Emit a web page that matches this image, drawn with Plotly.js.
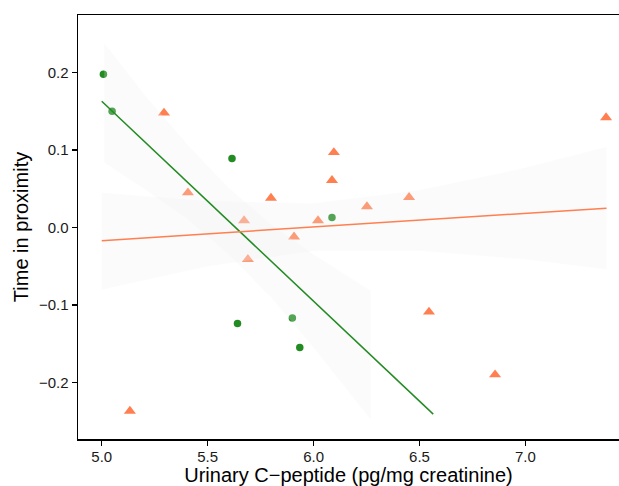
<!DOCTYPE html>
<html>
<head>
<meta charset="utf-8">
<script src="https://cdn.plot.ly/plotly-3.0.1.min.js"></script>
<style>html,body{margin:0;padding:0;background:#fff;overflow:hidden}#plot{width:619px;height:486px}</style>
</head>
<body>
<div id="plot"></div>
<script>
// Green group (circles)
const greenX = [5.008, 5.049, 5.615, 6.087, 5.641, 5.900, 5.935];
const greenY = [0.198, 0.150, 0.089, 0.013, -0.124, -0.117, -0.155];
// Orange group (triangles)
const orangeX = [5.294, 5.407, 5.672, 5.799, 5.908, 6.021, 6.096, 6.087, 6.252, 6.451, 7.381, 5.690, 5.133, 6.545, 6.857];
const orangeY = [0.148, 0.045, 0.009, 0.038, -0.012, 0.009, 0.097, 0.061, 0.027, 0.039, 0.142, -0.041, -0.237, -0.109, -0.190];
// Fitted lines (endpoints)
const greenLineX = [5.0, 6.565];
const greenLineY = [0.163, -0.241];
const orangeLineX = [5.0, 7.383];
const orangeLineY = [-0.017, 0.025];
// Confidence ribbons
const greenBandX = [5.012, 5.2, 5.4, 5.6, 5.8, 6.0, 6.27];
const greenBandUpper = [0.238, 0.172, 0.108, 0.051, 0.004, -0.035, -0.082];
const greenBandLower = [0.084, 0.050, 0.012, -0.035, -0.090, -0.155, -0.248];
const orangeBandX = [5.0, 5.5, 6.0, 6.5, 7.0, 7.383];
const orangeBandUpper = [0.045, 0.034, 0.031, 0.048, 0.077, 0.104];
const orangeBandLower = [-0.080, -0.050, -0.030, -0.030, -0.041, -0.054];
// Axis ticks
const xTicks = [5.0, 5.5, 6.0, 6.5, 7.0];
const xTickText = ['5.0', '5.5', '6.0', '6.5', '7.0'];
const yTicks = [-0.2, -0.1, 0.0, 0.1, 0.2];
const yTickText = ['\u22120.2', '\u22120.1', '0.0', '0.1', '0.2'];

const GREEN = '#228B22';
const ORANGE = '#FF7F50';
const BAND = 'rgba(238,238,238,0.25)';

function band(xs, up, lo) {
  return {
    x: xs.concat(xs.slice().reverse()),
    y: up.concat(lo.slice().reverse()),
    type: 'scatter', mode: 'lines', fill: 'toself',
    fillcolor: BAND, line: {width: 0, color: 'rgba(0,0,0,0)'},
    hoverinfo: 'skip', showlegend: false
  };
}

const traces = [
  {x: greenX, y: greenY, type: 'scatter', mode: 'markers',
   marker: {symbol: 'circle', size: 7.5, color: GREEN}, showlegend: false},
  {x: orangeX, y: orangeY, type: 'scatter', mode: 'markers',
   marker: {symbol: 'triangle-up', size: 10.5, color: ORANGE}, showlegend: false},
  band(greenBandX, greenBandUpper, greenBandLower),
  band(orangeBandX, orangeBandUpper, orangeBandLower),
  {x: greenLineX, y: greenLineY, type: 'scatter', mode: 'lines',
   line: {color: GREEN, width: 1.5}, showlegend: false},
  {x: orangeLineX, y: orangeLineY, type: 'scatter', mode: 'lines',
   line: {color: ORANGE, width: 1.5}, showlegend: false}
];

const layout = {
  width: 619, height: 486,
  margin: {l: 78, r: 0, t: 15, b: 47},
  paper_bgcolor: '#fff', plot_bgcolor: '#fff',
  font: {family: 'Liberation Sans, Arial, sans-serif', color: '#1a1a1a'},
  showlegend: false,
  xaxis: {
    range: [4.888, 7.442], showgrid: false, zeroline: false,
    showline: true, mirror: true, linecolor: '#000', linewidth: 1.5,
    ticks: 'outside', ticklen: 5, tickwidth: 1.2, tickcolor: '#000',
    tickvals: xTicks, ticktext: xTickText, ticklabelstandoff: -2,
    tickfont: {size: 15, color: '#1a1a1a'},
    title: {text: 'Urinary C\u2212peptide (pg/mg creatinine)', font: {size: 20, color: '#000'}, standoff: 3}
  },
  yaxis: {
    range: [-0.2731, 0.2744], showgrid: false, zeroline: false,
    showline: true, linecolor: '#000', linewidth: 1.5,
    ticks: 'outside', ticklen: 5, tickwidth: 1.2, tickcolor: '#000',
    tickvals: yTicks, ticktext: yTickText,
    tickfont: {size: 15, color: '#1a1a1a'},
    title: {text: 'Time in proximity', font: {size: 20, color: '#000'}, standoff: 5}
  }
};

Plotly.newPlot('plot', traces, layout, {displayModeBar: false, staticPlot: true});
</script>
</body>
</html>
